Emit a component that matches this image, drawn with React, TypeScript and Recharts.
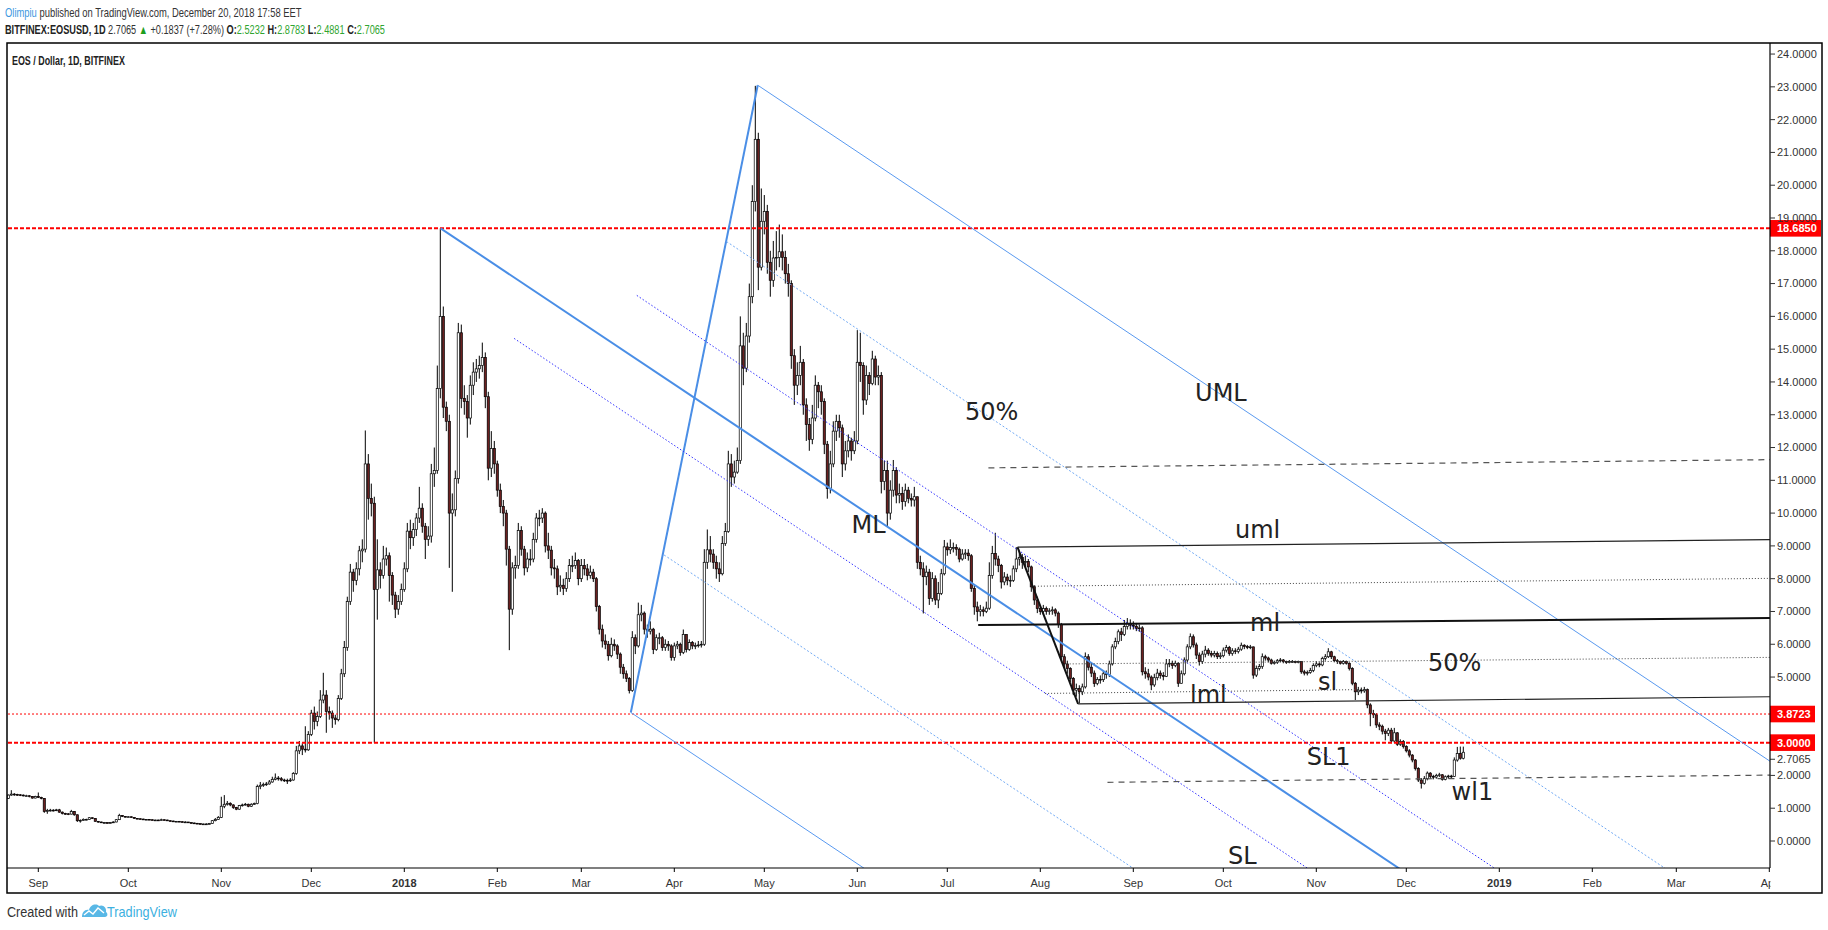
import React from 'react';
import { ComposedChart, Bar, XAxis, YAxis, ReferenceLine, ReferenceDot } from 'recharts';

// ---------- DATA ----------
// Daily candles, one tuple per day: [close, high, low]; open = previous close.
// First candle is 2017-08-22 (day -10, day 0 = 2017-09-01).
const FIRST_DAY = -10;
const FIRST_OPEN = 1.3;

const aug17 = [[1.40,1.42,1.28],[1.43,1.55,1.38],[1.42,1.46,1.38],[1.41,1.44,1.38],[1.40,1.43,1.37],[1.38,1.42,1.36],[1.38,1.41,1.35],[1.36,1.40,1.33],[1.31,1.37,1.29],[1.36,1.38,1.30]];
const sep17 = [[1.33,1.48,1.31],[1.30,1.35,1.27],[0.90,1.31,0.86],[0.93,0.98,0.83],[0.94,0.98,0.90],[0.93,0.97,0.90],[0.95,0.98,0.91],[0.88,0.98,0.86],[0.84,0.90,0.81],[0.83,0.86,0.80],
  [0.82,0.85,0.79],[0.90,0.95,0.81],[0.80,0.91,0.77],[0.62,0.81,0.58],[0.63,0.66,0.56],[0.66,0.69,0.62],[0.66,0.68,0.63],[0.71,0.73,0.65],[0.69,0.72,0.67],[0.60,0.70,0.59],
  [0.58,0.61,0.56],[0.56,0.59,0.55],[0.56,0.58,0.54],[0.55,0.57,0.54],[0.56,0.58,0.54],[0.58,0.60,0.55],[0.65,0.67,0.57],[0.78,0.83,0.64],[0.75,0.79,0.73],[0.74,0.76,0.72]];
const oct17 = [[0.74,0.76,0.72],[0.72,0.75,0.71],[0.69,0.73,0.68],[0.68,0.70,0.67],[0.67,0.69,0.66],[0.66,0.68,0.65],[0.66,0.67,0.64],[0.65,0.67,0.64],[0.64,0.66,0.63],[0.64,0.65,0.62],
  [0.63,0.65,0.62],[0.65,0.68,0.62],[0.64,0.66,0.63],[0.62,0.65,0.61],[0.61,0.63,0.60],[0.60,0.62,0.59],[0.60,0.61,0.59],[0.59,0.61,0.58],[0.58,0.60,0.57],[0.58,0.60,0.56],
  [0.56,0.58,0.55],[0.55,0.57,0.54],[0.54,0.56,0.53],[0.53,0.55,0.52],[0.52,0.54,0.51],[0.52,0.53,0.50],[0.52,0.54,0.51],[0.53,0.55,0.51],[0.62,0.64,0.52],[0.66,0.70,0.60],
  [0.72,0.76,0.65]];
const nov17 = [[1.06,1.35,0.70],[1.12,1.40,1.00],[1.15,1.22,1.08],[1.10,1.18,1.06],[1.02,1.12,0.98],[0.97,1.04,0.94],[1.08,1.10,0.95],[1.10,1.14,1.05],[1.12,1.16,1.08],[1.06,1.14,1.03],
  [1.12,1.15,1.04],[1.14,1.17,1.10],[1.66,1.72,1.12],[1.70,1.80,1.58],[1.72,1.78,1.65],[1.74,1.80,1.68],[1.80,1.86,1.72],[1.88,1.96,1.78],[1.92,2.06,1.85],[1.90,1.98,1.84],
  [1.86,1.95,1.82],[1.85,1.90,1.80],[1.84,1.90,1.74],[1.86,1.92,1.80],[2.06,2.10,1.84],[2.75,2.90,2.02],[2.90,3.05,2.65],[2.80,2.98,2.62],[2.78,3.50,2.70],[3.25,3.35,2.75]];
const dec17 = [[3.90,4.00,3.20],[3.65,4.10,3.40],[3.80,3.95,3.50],[4.30,4.60,3.75],[4.45,5.13,4.20],[3.95,4.60,3.30],[3.90,4.10,3.70],[3.75,3.98,3.45],[3.70,3.85,3.55],[4.35,4.45,3.65],
  [5.10,5.25,4.30],[5.90,6.10,5.00],[7.30,7.45,5.80],[8.20,8.45,7.20],[7.95,8.30,7.60],[8.30,8.50,7.80],[8.85,9.00,8.10],[8.90,9.20,8.50],[11.50,12.52,8.80],[10.45,11.80,9.80],
  [10.30,10.90,9.90],[7.67,10.50,3.00],[8.27,9.20,6.75],[8.10,8.50,7.70],[8.60,9.00,8.00],[8.70,8.95,8.40],[8.10,8.80,7.30],[7.50,8.20,7.20],[7.07,7.60,6.80],[7.30,7.50,6.90],
  [7.67,7.85,7.20]];
const jan18 = [[8.30,8.50,7.60],[9.45,9.70,8.20],[9.25,9.80,8.90],[9.50,9.70,9.00],[9.85,10.00,9.30],[10.15,10.80,9.70],[9.60,10.30,9.40],[9.20,9.70,8.60],[9.30,9.60,9.00],[11.20,11.50,9.10],
  [11.30,12.00,10.80],[13.80,14.50,11.20],[16.00,18.685,13.50],[13.23,16.30,12.90],[12.80,13.40,12.50],[10.00,13.00,8.33],[10.10,10.60,7.60],[11.05,11.30,9.90],[15.50,15.80,10.90],[13.50,15.75,13.20],
  [13.40,13.90,13.00],[12.90,13.60,12.30],[13.90,14.20,12.70],[14.30,14.60,13.60],[14.40,14.70,14.00],[14.50,14.80,14.10],[14.75,15.20,14.30],[13.55,14.90,13.20],[11.37,13.70,11.00],[11.97,12.50,11.10],
  [11.50,12.20,11.20]];
const feb18 = [[10.70,11.60,10.50],[10.20,10.90,10.00],[10.00,10.40,9.60],[8.90,10.10,8.40],[7.07,9.00,5.82],[8.33,8.50,6.90],[8.40,8.70,8.00],[9.47,9.70,8.30],[8.90,9.60,8.70],[8.33,9.00,8.10],
  [8.60,8.80,8.20],[8.60,8.90,8.40],[9.20,9.40,8.50],[9.85,10.00,9.10],[9.85,10.10,9.60],[10.00,10.15,9.70],[9.00,10.05,8.80],[8.87,9.40,8.60],[8.33,9.00,8.10],[8.30,8.60,8.00],
  [7.75,8.40,7.50],[7.80,8.10,7.60],[7.70,8.00,7.50],[8.00,8.20,7.60],[8.40,8.60,7.90],[8.40,8.70,8.20],[8.55,8.80,8.30],[8.00,8.60,7.80]];
const mar18 = [[8.40,8.60,7.90],[8.30,8.60,8.10],[8.10,8.45,7.95],[8.20,8.40,8.00],[8.00,8.30,7.90],[7.15,8.05,7.00],[6.46,7.20,6.30],[6.10,6.60,5.90],[6.00,6.30,5.85],[5.65,6.10,5.50],
  [6.00,6.20,5.60],[5.95,6.15,5.80],[5.70,6.00,5.55],[5.30,5.75,5.10],[5.10,5.40,4.95],[4.96,5.20,4.85],[4.59,5.00,4.50],[6.20,6.40,4.55],[5.95,6.30,5.70],[6.90,7.27,5.90],
  [6.95,7.20,6.70],[6.46,7.00,6.30],[6.40,6.60,6.20],[6.46,6.70,6.30],[5.84,6.50,5.70],[6.20,6.30,5.80],[6.20,6.35,6.00],[5.90,6.25,5.80],[6.00,6.15,5.80],[5.95,6.10,5.80],
  [5.60,6.00,5.50]];
const apr18 = [[5.95,6.05,5.50],[6.00,6.10,5.85],[5.75,6.05,5.65],[6.30,6.45,5.70],[5.84,6.30,5.75],[6.05,6.15,5.80],[5.95,6.10,5.85],[5.96,6.05,5.85],[5.98,6.10,5.90],[6.00,6.10,5.90],
  [8.50,8.90,5.95],[8.88,9.50,8.30],[8.75,9.30,8.50],[8.50,8.90,8.30],[8.30,8.70,8.00],[8.15,8.50,7.90],[9.07,9.30,8.10],[9.44,9.70,9.00],[11.50,11.90,9.40],[11.10,11.80,10.80],
  [11.25,11.60,10.90],[11.60,12.00,11.20],[15.10,16.00,11.50],[14.42,15.50,13.90],[15.40,15.80,14.30],[16.60,17.00,15.20],[19.50,20.00,16.40],[21.40,23.03,19.20],[17.50,21.60,16.80],[18.90,19.90,17.40]];
const may18 = [[19.20,19.70,18.50],[17.65,19.40,17.30],[17.10,18.00,16.60],[17.78,18.30,16.90],[17.80,18.60,17.40],[17.97,18.80,17.50],[17.80,18.50,17.40],[17.30,18.00,17.00],[17.00,17.60,16.60],[14.80,17.10,14.40],
  [13.90,15.00,13.30],[14.20,14.60,13.60],[14.60,15.10,13.90],[13.30,14.70,13.00],[12.70,13.50,12.20],[12.25,12.90,11.90],[12.90,13.30,12.10],[13.90,14.20,12.80],[13.70,14.00,13.20],[13.40,13.90,13.00],
  [12.10,13.50,11.80],[10.75,12.20,10.44],[11.50,11.90,10.60],[12.50,12.80,11.40],[12.80,13.00,12.20],[12.60,13.00,12.30],[11.50,12.70,11.10],[11.90,12.20,11.30],[12.20,12.40,11.70],[11.90,12.30,11.60],
  [12.20,12.50,11.80]];
const jun18 = [[14.60,15.58,12.10],[14.50,15.50,14.00],[13.45,14.60,13.00],[14.20,14.50,13.30],[13.95,14.30,13.60],[14.70,14.95,13.90],[14.15,14.80,13.90],[14.20,14.50,13.90],[10.96,14.30,10.60],[11.30,11.60,10.70],
  [10.00,11.60,9.60],[10.70,11.00,9.80],[11.30,11.62,10.50],[10.55,11.40,10.30],[10.60,10.90,10.30],[10.35,10.80,10.10],[10.70,10.90,10.20],[10.45,10.80,10.30],[10.40,10.60,10.20],[10.50,10.80,10.20],
  [8.50,10.50,8.30],[8.30,8.70,8.10],[8.06,8.50,6.94],[8.20,8.40,7.80],[7.40,8.30,7.20],[8.00,8.20,7.30],[7.35,8.10,7.20],[7.55,7.90,7.10],[8.15,8.30,7.50],[8.97,9.18,8.10]];
const jul18 = [[8.88,9.10,8.70],[8.95,9.20,8.75],[8.95,9.10,8.80],[8.90,9.05,8.70],[8.60,8.95,8.50],[8.75,8.90,8.55],[8.78,8.90,8.60],[8.70,8.90,8.55],[7.70,8.75,7.60],[7.14,7.80,6.90],
  [7.00,7.30,6.70],[7.05,7.20,6.85],[7.00,7.15,6.85],[7.10,7.30,6.95],[8.10,8.50,7.05],[8.77,9.00,8.00],[8.60,9.40,8.40],[8.40,8.70,8.20],[7.90,8.45,7.70],[8.05,8.20,7.80],
  [7.95,8.15,7.80],[7.95,8.10,7.75],[8.30,8.40,7.90],[8.60,8.96,8.20],[8.65,8.85,8.40],[8.50,8.75,8.30],[8.52,8.70,8.35],[8.36,8.60,8.20],[7.75,8.40,7.60],[7.35,7.80,7.20],
  [7.09,7.45,6.95]];
const aug18 = [[7.00,7.20,6.90],[7.09,7.20,6.90],[7.00,7.15,6.90],[7.02,7.10,6.90],[7.05,7.15,6.90],[6.95,7.10,6.85],[6.60,7.00,6.50],[5.62,6.65,5.50],[5.40,5.70,5.30],[5.26,5.50,5.10],
  [4.96,5.30,4.85],[4.60,5.00,4.45],[4.65,4.80,4.40],[4.55,4.75,4.20],[4.70,4.80,4.45],[5.62,5.75,4.65],[5.30,5.70,5.20],[5.12,5.40,5.00],[4.80,5.20,4.70],[4.93,5.00,4.75],
  [4.92,5.05,4.80],[5.10,5.20,4.85],[5.08,5.20,4.95],[5.40,5.50,5.00],[5.92,6.00,5.35],[6.08,6.20,5.85],[6.38,6.45,6.00],[6.30,6.50,6.10],[6.54,6.74,6.25],[6.64,6.80,6.45],
  [6.58,6.76,6.45]];
const sep18 = [[6.55,6.70,6.45],[6.48,6.65,6.40],[6.50,6.60,6.38],[5.16,6.55,5.05],[5.10,5.30,4.95],[5.00,5.25,4.90],[4.76,5.05,4.60],[4.98,5.10,4.70],[5.12,5.25,4.90],[5.05,5.20,4.95],
  [5.02,5.15,4.90],[5.40,5.55,5.00],[5.42,5.55,5.30],[5.35,5.50,5.25],[5.42,5.50,5.30],[4.81,5.45,4.70],[5.10,5.20,4.80],[5.52,5.60,5.05],[5.92,6.00,5.45],[6.23,6.33,5.85],
  [5.98,6.30,5.90],[5.67,6.05,5.55],[5.47,5.75,5.35],[5.70,5.80,5.40],[5.82,5.95,5.60],[5.72,5.88,5.65],[5.67,5.80,5.60],[5.72,5.80,5.60],[5.62,5.78,5.55],[5.65,5.75,5.55]];
const oct18 = [[5.82,5.90,5.60],[5.90,5.98,5.75],[5.72,5.95,5.65],[5.80,5.88,5.65],[5.78,5.88,5.70],[5.85,5.92,5.72],[5.97,6.05,5.80],[5.93,6.00,5.85],[5.90,5.98,5.85],[5.92,5.98,5.85],
  [5.06,5.93,4.95],[5.26,5.35,5.00],[5.32,5.40,5.20],[5.62,5.72,5.25],[5.58,5.68,5.50],[5.52,5.62,5.45],[5.42,5.56,5.38],[5.45,5.50,5.38],[5.50,5.55,5.40],[5.52,5.58,5.45],
  [5.47,5.55,5.42],[5.45,5.50,5.40],[5.47,5.52,5.42],[5.47,5.52,5.43],[5.46,5.50,5.42],[5.47,5.50,5.42],[5.16,5.48,5.10],[5.12,5.22,5.05],[5.14,5.20,5.05],[5.20,5.28,5.10],
  [5.35,5.42,5.15]];
const nov18 = [[5.40,5.48,5.30],[5.37,5.45,5.30],[5.57,5.62,5.33],[5.62,5.70,5.50],[5.77,5.88,5.58],[5.62,5.80,5.55],[5.50,5.65,5.45],[5.47,5.55,5.40],[5.42,5.50,5.38],[5.47,5.52,5.38],
  [5.42,5.50,5.38],[5.26,5.45,5.20],[4.81,5.30,4.75],[4.55,4.85,4.30],[4.60,4.70,4.45],[4.58,4.68,4.50],[4.62,4.70,4.52],[4.15,4.65,4.05],[3.89,4.20,3.50],[3.85,4.00,3.75],
  [3.54,3.90,3.45],[3.50,3.62,3.38],[3.35,3.55,3.25],[3.28,3.42,3.07],[3.38,3.45,3.20],[3.05,3.45,2.98],[3.30,3.45,3.00],[2.95,3.32,2.90],[3.03,3.10,2.90],[2.88,3.08,2.82]];
const dec18 = [[2.75,2.92,2.70],[2.62,2.80,2.55],[2.47,2.65,2.40],[2.21,2.50,2.15],[1.86,2.25,1.80],[1.76,1.92,1.60],[1.90,1.98,1.72],[2.07,2.12,1.85],[1.97,2.10,1.90],[1.95,2.02,1.88],
  [2.00,2.05,1.90],[2.02,2.08,1.95],[1.88,2.04,1.84],[1.96,2.00,1.85],[1.98,2.02,1.90],[1.97,2.02,1.90],[2.47,2.55,1.95],[2.67,2.87,2.42],[2.5232,2.88,2.48],[2.7065,2.8783,2.4881]];

const months = [aug17, sep17, oct17, nov17, dec17, jan18, feb18, mar18, apr18, may18, jun18, jul18, aug18, sep18, oct18, nov18, dec18];

// time axis (day index of month starts) and labels
const monthDays = [0, 30, 61, 91, 122, 153, 181, 212, 242, 273, 303, 334, 365, 395, 426, 456, 487, 518, 546, 577];
const monthLabels = ['Sep', 'Oct', 'Nov', 'Dec', '2018', 'Feb', 'Mar', 'Apr', 'May', 'Jun', 'Jul', 'Aug', 'Sep', 'Oct', 'Nov', 'Dec', '2019', 'Feb', 'Mar', 'Apr'];
const priceTicks = [0, 1, 2, 5, 6, 7, 8, 9, 10, 11, 12, 13, 14, 15, 16, 17, 18, 19, 20, 21, 22, 23, 24];

// horizontal levels
const level18 = 18.685;
const level387 = 3.8723;
const level3 = 3.0;
const lastPrice = 2.7065;

// Andrews pitchfork pivots [day, price]
const pivotA = [134.1, 18.685];
const pivotB = [197.5, 3.92];
const pivotC = [239.8, 23.05];
const forkSlope = -0.0611;
const forkEndDay = 620;
// inner parallels: [start day, offset from median]
const lightParallels = [[229.4, 5.42], [208.6, -5.41]];
const darkParallels = [[199.5, 1.95], [158.6, -1.86]];

// second (black) fork lines [[d1,p1],[d2,p2]]
const blackDiag = [[326.4, 8.96], [346.6, 4.18]];
const blackUml = [[326.4, 8.96], [577.2, 9.19]];
const blackMl = [[313.3, 6.585], [577.2, 6.8]];
const blackLml = [[346.6, 4.18], [577.2, 4.4]];
const dottedLevels = [[[332.2, 7.77], [577.2, 8.01]], [[342.8, 5.4], [577.2, 5.6]], [[335.6, 4.5], [443, 4.62]]];
const dashedLevels = [[[316.7, 11.38], [577.2, 11.63]], [[356.4, 1.79], [577.2, 2.01]]];

// text annotations [text, day, price(baseline)]
const notes = [
  ['50%', 308.9, 12.835], ['ML', 271.1, 9.4], ['UML', 385.6, 13.41], ['uml', 398.9, 9.24],
  ['ml', 403.9, 6.41], ['lml', 383.9, 4.21], ['sl', 426.6, 4.59], ['50%', 463.2, 5.19],
  ['SL1', 422.8, 2.32], ['wl1', 471.1, 1.25], ['SL', 396.6, -0.7],
];

// ---------- BUILD ----------
const candles: any[] = [];
{
  let day = FIRST_DAY;
  let prev = FIRST_OPEN;
  for (const m of months) {
    for (const [c, h, l] of m) {
      candles.push({ day, open: prev, close: c, high: h, low: l, range: [l, h] });
      prev = c;
      day += 1;
    }
  }
}

const mlAt = (d: number) => pivotA[1] + forkSlope * (d - pivotA[0]);

const AXIS_FONT = "'Liberation Sans', Arial, sans-serif";
const UI_FONT = "'Liberation Sans', Arial, sans-serif";
const ANNO_FONT = "'DejaVu Sans', Verdana, sans-serif";

const BLUE = '#4a8ee6';
const BLUE_THIN = '#5a9af0';
const BLUE_LIGHT = '#72aaf5';
const BLUE_DARK = '#3535ff';
const GREEN = '#2fa52f';

const Candle = (props: any) => {
  const { x, y, width, height, payload } = props;
  if (x == null || y == null || !payload) return null;
  const { open, close, high, low } = payload;
  const top = Math.min(y, y + height);
  const h = Math.abs(height);
  const ppu = high > low ? h / (high - low) : 0;
  const yO = top + (high - open) * ppu;
  const yC = top + (high - close) * ppu;
  const cx = x + width / 2;
  const up = close >= open;
  const bTop = Math.min(yO, yC);
  const bH = Math.max(Math.abs(yO - yC), 0.8);
  return (
    <g>
      <line x1={cx} x2={cx} y1={top} y2={top + h} stroke="#000" strokeWidth={1} />
      <rect x={cx - 1.1} y={bTop} width={2.2} height={bH} fill={up ? '#ffffff' : '#6b2020'} stroke="#000" strokeWidth={0.7} />
    </g>
  );
};

const XTick = (props: any) => {
  const { x, y, payload } = props;
  const idx = monthDays.indexOf(payload.value);
  const label = idx >= 0 ? monthLabels[idx] : '';
  const isYear = /^\d{4}$/.test(label);
  const clipId = `xclip-${idx}`;
  return (
    <g>
      <defs>
        <clipPath id={clipId}>
          <rect x={x - 30} y={y - 6} width={Math.min(60, 1770.5 - (x - 30))} height={30} />
        </clipPath>
      </defs>
      <text x={x} y={y + 12.5} textAnchor="middle" fontSize={11} fontFamily={AXIS_FONT} fill="#333" fontWeight={isYear ? 700 : 400} clipPath={`url(#${clipId})`}>
        {label}
      </text>
    </g>
  );
};

const priceTag = (text: string, boxW: number) => (p: any) => {
  const vb = p.viewBox || {};
  const xR = (vb.x || 0) + (vb.width || 0);
  const yy = vb.y || 0;
  return (
    <g>
      <rect x={xR} y={yy - 8.3} width={boxW} height={16.6} fill="#ff0000" />
      <text x={xR + 7} y={yy + 4} fill="#ffffff" fontWeight={700} fontSize={11} fontFamily={AXIS_FONT}>{text}</text>
    </g>
  );
};

const lastTag = (p: any) => {
  const vb = p.viewBox || {};
  const xR = (vb.x || 0) + (vb.width || 0);
  const yy = (vb.y || 0) + 7;
  return (
    <g>
      <line x1={xR} x2={xR + 5} y1={yy} y2={yy} stroke="#333" strokeWidth={1} />
      <text x={xR + 7} y={yy + 4} fill="#333" fontSize={11} fontFamily={AXIS_FONT}>{lastPrice.toFixed(4)}</text>
    </g>
  );
};

const seg = (a: number[], b: number[]) => [{ x: a[0], y: a[1] }, { x: b[0], y: b[1] }];

// text laid out naturally, then squeezed horizontally to a target width
const FitText = ({ x, y, width, children, ...rest }: any) => {
  const ref = React.useRef<SVGTextElement | null>(null);
  const [s, setS] = React.useState(1);
  React.useLayoutEffect(() => {
    const el = ref.current;
    if (el) {
      const len = el.getComputedTextLength();
      if (len > 0) setS(width / len);
    }
  }, [width]);
  return (
    <text ref={ref} x={x} y={y} transform={`translate(${x} 0) scale(${s} 1) translate(${-x} 0)`} {...rest}>
      {children}
    </text>
  );
};

const Overlay = () => (
  <svg width={1828} height={930} style={{ position: 'absolute', left: 0, top: 0, pointerEvents: 'none' }}>
    {/* header line 1 */}
    <FitText x={5} y={17} width={297} fontSize={12.5} fontFamily={UI_FONT} fill="#333">
      <tspan fill="#3c97e0">Olimpiu</tspan> published on TradingView.com, December 20, 2018 17:58 EET
    </FitText>
    {/* header line 2 */}
    <FitText x={5} y={34} width={380} fontSize={12.5} fontFamily={UI_FONT} fill="#333">
      <tspan fontWeight={700} fill="#222">BITFINEX:EOSUSD, 1D</tspan>
      {' 2.7065 '}
      <tspan fill="#1e9e1e">▲</tspan>
      {' +0.1837 (+7.28%) '}
      <tspan fontWeight={700} fill="#222">O:</tspan><tspan fill={GREEN}>2.5232</tspan>{' '}
      <tspan fontWeight={700} fill="#222">H:</tspan><tspan fill={GREEN}>2.8783</tspan>{' '}
      <tspan fontWeight={700} fill="#222">L:</tspan><tspan fill={GREEN}>2.4881</tspan>{' '}
      <tspan fontWeight={700} fill="#222">C:</tspan><tspan fill={GREEN}>2.7065</tspan>
    </FitText>
    {/* chart title */}
    <FitText x={12} y={65} width={113} fontSize={12.5} fontWeight={700} fontFamily={UI_FONT} fill="#222">EOS / Dollar, 1D, BITFINEX</FitText>
    {/* frame */}
    <rect x={7} y={43} width={1815} height={850} fill="none" stroke="#000" strokeWidth={1.5} />
    {/* footer */}
    <path d="M82,917 C82,912 85,909 89,910 C90,905 96,903 99,906 C103,904 107,908 106,912 C108,913 108,917 105,917 Z" fill="#59b8e6" />
    <path d="M84,915 L89,911 L93,914 L98,908 L104,913" fill="none" stroke="#ffffff" strokeWidth={1.4} />
    <FitText x={7} y={917} width={71} fontSize={14} fontFamily={UI_FONT} fill="#333">Created with</FitText>
    <FitText x={107} y={917} width={70} fontSize={14} fontFamily={UI_FONT} fill="#3cb0e0">TradingView</FitText>
  </svg>
);

export default function App() {
  const endML = mlAt(forkEndDay);
  return (
    <div style={{ position: 'absolute', left: 0, top: 0, width: 1828, height: 930, background: '#fff' }}>
      <ComposedChart width={1828} height={930} data={candles} margin={{ top: 43, right: 6, bottom: 37, left: 7 }}>
        <XAxis
          type="number"
          dataKey="day"
          domain={[-10.433, 577.233]}
          allowDataOverflow
          ticks={monthDays}
          interval={0}
          tick={<XTick />}
          tickSize={4}
          tickLine={{ stroke: '#000' }}
          axisLine={{ stroke: '#000', strokeWidth: 1.2 }}
          height={25}
        />
        <YAxis
          orientation="right"
          type="number"
          domain={[-0.8234, 24.337]}
          allowDataOverflow
          ticks={priceTicks}
          interval={0}
          tickFormatter={(v: number) => v.toFixed(4)}
          tick={{ fontSize: 11, fill: '#333', fontFamily: AXIS_FONT }}
          tickSize={5}
          tickMargin={2}
          tickLine={{ stroke: '#333' }}
          axisLine={{ stroke: '#000', strokeWidth: 1.2 }}
          width={52}
        />

        {/* red horizontal levels */}
        <ReferenceLine y={level387} stroke="#ff0000" strokeWidth={1} strokeDasharray="2 2" />
        <ReferenceLine y={level18} stroke="#ff0000" strokeWidth={2} strokeDasharray="4 2" />
        <ReferenceLine y={level3} stroke="#ff0000" strokeWidth={2} strokeDasharray="4 2" />

        {/* Andrews pitchfork */}
        <ReferenceLine segment={seg(pivotB, pivotC)} ifOverflow="hidden" stroke={BLUE} strokeWidth={2} />
        <ReferenceLine segment={seg(pivotA, [forkEndDay, endML])} ifOverflow="hidden" stroke={BLUE} strokeWidth={2} />
        <ReferenceLine segment={seg(pivotC, [forkEndDay, pivotC[1] + forkSlope * (forkEndDay - pivotC[0])])} ifOverflow="hidden" stroke={BLUE_THIN} strokeWidth={1} />
        <ReferenceLine segment={seg(pivotB, [forkEndDay, pivotB[1] + forkSlope * (forkEndDay - pivotB[0])])} ifOverflow="hidden" stroke={BLUE_THIN} strokeWidth={1} />
        {lightParallels.map(([d, off], i) => (
          <ReferenceLine key={`lp${i}`} segment={seg([d, mlAt(d) + off], [forkEndDay, endML + off])} ifOverflow="hidden" stroke={BLUE_LIGHT} strokeWidth={1} strokeDasharray="2 2" />
        ))}
        {darkParallels.map(([d, off], i) => (
          <ReferenceLine key={`dp${i}`} segment={seg([d, mlAt(d) + off], [forkEndDay, endML + off])} ifOverflow="hidden" stroke={BLUE_DARK} strokeWidth={1} strokeDasharray="1.5 2" />
        ))}

        {/* black fork */}
        <ReferenceLine segment={seg(blackDiag[0], blackDiag[1])} ifOverflow="hidden" stroke="#111" strokeWidth={2} />
        <ReferenceLine segment={seg(blackUml[0], blackUml[1])} ifOverflow="hidden" stroke="#222" strokeWidth={1.2} />
        <ReferenceLine segment={seg(blackMl[0], blackMl[1])} ifOverflow="hidden" stroke="#111" strokeWidth={2} />
        <ReferenceLine segment={seg(blackLml[0], blackLml[1])} ifOverflow="hidden" stroke="#222" strokeWidth={1.2} />
        {dottedLevels.map(([a, b], i) => (
          <ReferenceLine key={`dl${i}`} segment={seg(a, b)} ifOverflow="hidden" stroke="#444" strokeWidth={1} strokeDasharray="1 2" />
        ))}
        {dashedLevels.map(([a, b], i) => (
          <ReferenceLine key={`ds${i}`} segment={seg(a, b)} ifOverflow="hidden" stroke="#555" strokeWidth={1.2} strokeDasharray="6 5" />
        ))}

        <Bar dataKey="range" barSize={3} shape={<Candle />} isAnimationActive={false} />

        {/* price tags on the axis */}
        <ReferenceLine y={level18} stroke="none" strokeWidth={0} label={priceTag(level18.toFixed(4), 51)} />
        <ReferenceLine y={level387} stroke="none" strokeWidth={0} label={priceTag(level387.toFixed(4), 45)} />
        <ReferenceLine y={level3} stroke="none" strokeWidth={0} label={priceTag(level3.toFixed(4), 45)} />
        <ReferenceLine y={lastPrice} stroke="none" strokeWidth={0} label={lastTag} />

        {notes.map(([t, d, p], i) => (
          <ReferenceDot
            key={`n${i}`}
            x={d as number}
            y={p as number}
            r={0}
            ifOverflow="visible"
            shape={(sp: any) => (
              <text x={sp.cx} y={sp.cy} fontSize={24} fontFamily={ANNO_FONT} fill="#222">{t as string}</text>
            )}
          />
        ))}
      </ComposedChart>
      <Overlay />
    </div>
  );
}
